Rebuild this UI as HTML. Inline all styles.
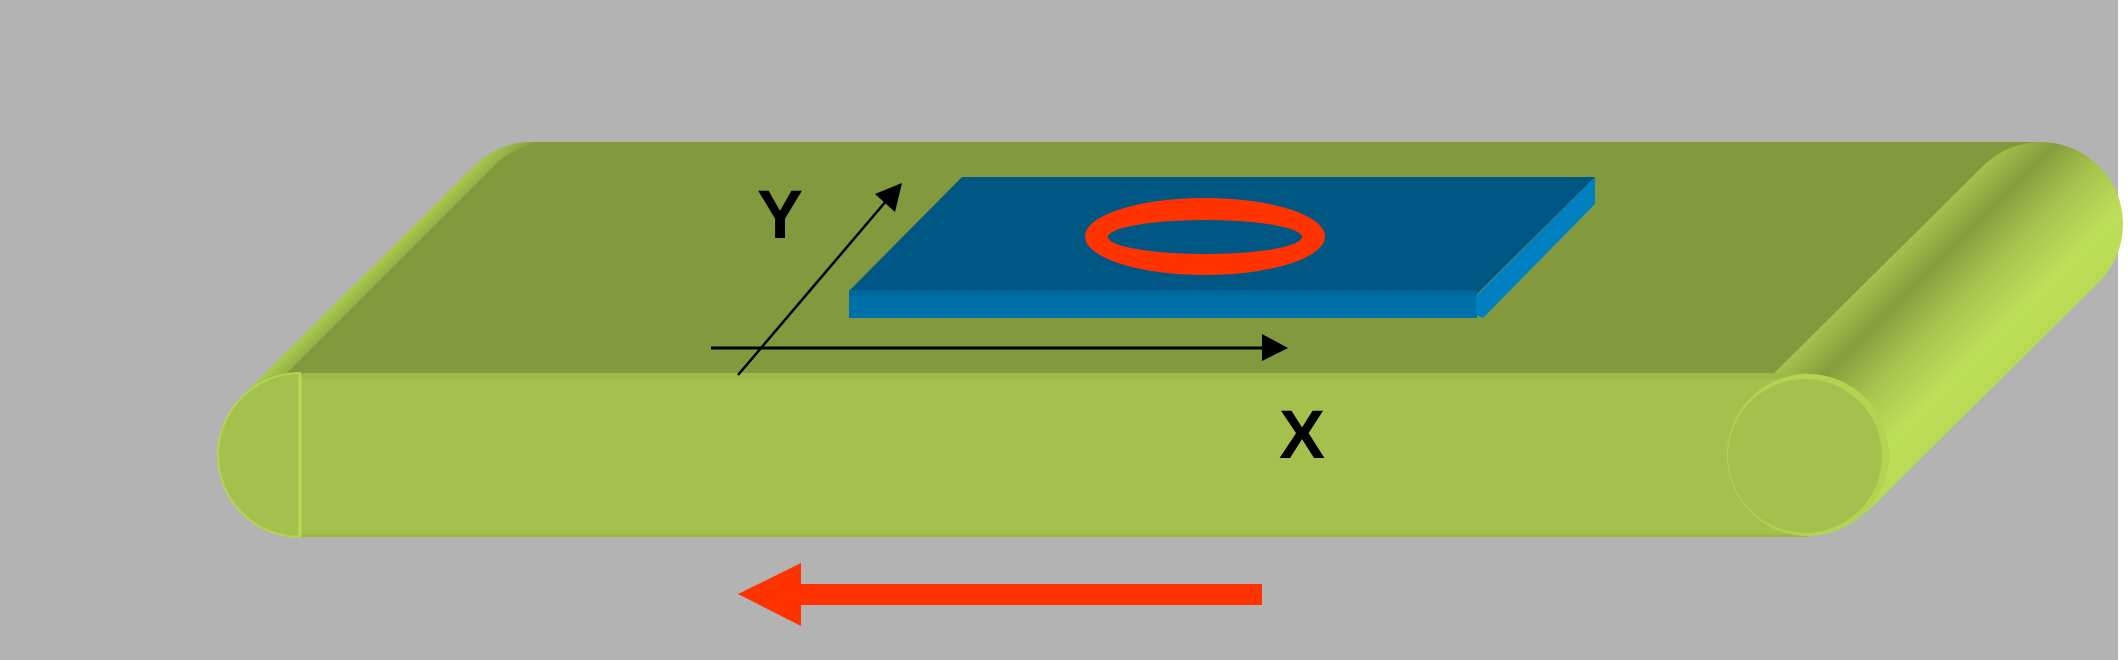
<!DOCTYPE html>
<html><head><meta charset="utf-8"><style>
html,body{margin:0;padding:0;background:#fff;}
svg{display:block;}
</style></head><body>
<svg width="2128" height="660" viewBox="0 0 2128 660" xmlns="http://www.w3.org/2000/svg">
<defs>
<linearGradient id="rg" gradientUnits="userSpaceOnUse" x1="1751" y1="398" x2="1865" y2="512">
<stop offset="0" stop-color="#a5c14c"/>
<stop offset="0.22" stop-color="#869c3e"/>
<stop offset="0.5" stop-color="#a8c44e"/>
<stop offset="0.8" stop-color="#bde058"/>
<stop offset="1" stop-color="#b8da55"/>
</linearGradient>
<linearGradient id="lg" gradientUnits="userSpaceOnUse" x1="242" y1="398" x2="262" y2="418">
<stop offset="0" stop-color="#a9c84c"/>
<stop offset="1" stop-color="#82993d"/>
</linearGradient>
</defs>
<rect x="0" y="0" width="2118" height="660" fill="#b3b3b3"/>
<!-- top surface -->
<path d="M242,398 L470,170 Q498,142 530,142 L2041,142 L1808,373 L299,373 Z" fill="#82993d"/>
<!-- left slant highlight -->
<path d="M240,398 L470,170 Q498,142 530,142 L545,142 Q510,146 488,172 L262,398 Z" fill="url(#lg)"/>
<!-- right roller -->
<polygon points="1750,397 1983,166 2099,282 1866,513" fill="url(#rg)"/>
<circle cx="2041" cy="224" r="82" fill="url(#rg)"/>
<!-- front band -->
<rect x="299" y="373" width="1509" height="164" fill="#a5c04c"/>
<rect x="299" y="373" width="1509" height="6" fill="#9fb948"/>
<rect x="299" y="534" width="1509" height="3" fill="#9db645"/>
<!-- left cap -->
<path d="M300,373 A82,82 0 0 0 300,537 Z" fill="#a5c04c" stroke="#b3d650" stroke-width="2"/>
<line x1="300" y1="375" x2="300" y2="536" stroke="#b8dc50" stroke-width="3"/>
<!-- right front circle -->
<circle cx="1808" cy="455" r="81" fill="#b3d453"/>
<circle cx="1805" cy="456" r="77" fill="#a5c04c"/>
<!-- plate -->
<polygon points="962,177 1595,177 1476,295 849,291" fill="#005783"/>
<rect x="849" y="290" width="628" height="28" fill="#0070a8"/>
<rect x="849" y="290" width="628" height="6" fill="#00679b"/>
<polygon points="1476,296 1595,177 1595,204 1483,318 1476,315" fill="#0080c0"/>
<path d="M1085,236.5 a120,38.5 0 1 0 240,0 a120,38.5 0 1 0 -240,0 Z M1108,237 a97,17 0 1 0 194,0 a97,17 0 1 0 -194,0 Z" fill="#ff3300" fill-rule="evenodd"/>
<!-- X axis -->
<line x1="711" y1="348" x2="1266" y2="348" stroke="#000" stroke-width="3"/>
<polygon points="1262,334 1288,348 1262,361" fill="#000"/>
<!-- Y axis -->
<line x1="738" y1="375" x2="887" y2="200" stroke="#000" stroke-width="2.5"/>
<polygon points="902,183 895,212 875,194" fill="#000"/>
<text x="757" y="238" font-family="Liberation Sans, sans-serif" font-weight="bold" font-size="69" fill="#000">Y</text>
<text x="1279" y="458" font-family="Liberation Sans, sans-serif" font-weight="bold" font-size="69" fill="#000">X</text>
<!-- red arrow -->
<rect x="798" y="584" width="464" height="21" fill="#ff3300"/>
<polygon points="738,594 801,563 801,626" fill="#ff3300"/>
</svg>
</body></html>
